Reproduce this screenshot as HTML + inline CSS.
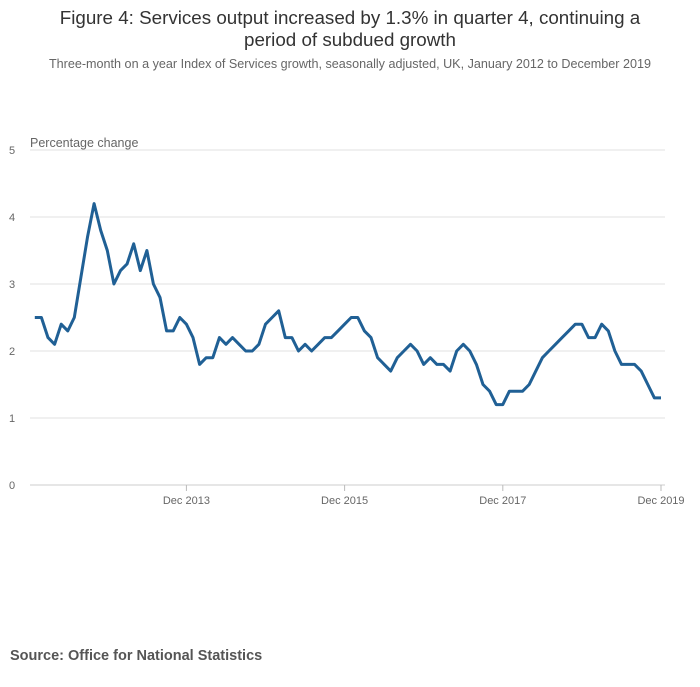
<!DOCTYPE html>
<html><head><meta charset="utf-8"><style>
body{margin:0;background:#fff;font-family:"Liberation Sans",sans-serif;}
svg text{font-family:"Liberation Sans",sans-serif;}
</style></head><body>
<svg width="700" height="682">
<text x="350" y="24" text-anchor="middle" font-size="18.8" fill="#333">Figure 4: Services output increased by 1.3% in quarter 4, continuing a</text>
<text x="350" y="46" text-anchor="middle" font-size="18.8" fill="#333">period of subdued growth</text>
<text x="350" y="68" text-anchor="middle" font-size="12.6" fill="#666">Three-month on a year Index of Services growth, seasonally adjusted, UK, January 2012 to December 2019</text>
<text x="30" y="147" font-size="12.5" fill="#666">Percentage change</text>
<g id="grid"></g><g id="xt"></g>
<path id="line" fill="none" stroke="#206095" stroke-width="3" stroke-linejoin="round"/>
<text x="10" y="660" font-size="14.5" font-weight="bold" fill="#555">Source: Office for National Statistics</text>
</svg>
<script>
const yTicks=[0,1,2,3,4,5];
const xTickLabels=["Dec 2013","Dec 2015","Dec 2017","Dec 2019"];
const xTickIndex=[23,47,71,95];
const values=[2.5,2.5,2.2,2.1,2.4,2.3,2.5,3.1,3.7,4.2,3.8,3.5,
3.0,3.2,3.3,3.6,3.2,3.5,3.0,2.8,2.3,2.3,2.5,2.4,
2.2,1.8,1.9,1.9,2.2,2.1,2.2,2.1,2.0,2.0,2.1,2.4,
2.5,2.6,2.2,2.2,2.0,2.1,2.0,2.1,2.2,2.2,2.3,2.4,
2.5,2.5,2.3,2.2,1.9,1.8,1.7,1.9,2.0,2.1,2.0,1.8,
1.9,1.8,1.8,1.7,2.0,2.1,2.0,1.8,1.5,1.4,1.2,1.2,
1.4,1.4,1.4,1.5,1.7,1.9,2.0,2.1,2.2,2.3,2.4,2.4,
2.2,2.2,2.4,2.3,2.0,1.8,1.8,1.8,1.7,1.5,1.3,1.3];
const NS="http://www.w3.org/2000/svg";
const x=i=>34.8+i*(661-34.8)/95;
const y=v=>485-v*67;
const grid=document.getElementById('grid');
yTicks.forEach(t=>{
 const l=document.createElementNS(NS,'line');
 l.setAttribute('x1',30);l.setAttribute('x2',665);l.setAttribute('y1',y(t));l.setAttribute('y2',y(t));
 l.setAttribute('stroke',t===0?'#ccc':'#e2e2e2');
 
 
 grid.appendChild(l);
 const tx=document.createElementNS(NS,'text');
 tx.setAttribute('x',12);tx.setAttribute('y',y(t)+4);tx.setAttribute('font-size','11');tx.setAttribute('fill','#666');tx.setAttribute('text-anchor','middle');
 tx.textContent=t;
 
 
 grid.appendChild(tx);
});
const xt=document.getElementById('xt');
xTickLabels.forEach((lab,k)=>{
 const px=x(xTickIndex[k]);
 const l=document.createElementNS(NS,'line');
 l.setAttribute('x1',px);l.setAttribute('x2',px);l.setAttribute('y1',485);l.setAttribute('y2',491);l.setAttribute('stroke','#bbb');
 
 
 xt.appendChild(l);
 const tx=document.createElementNS(NS,'text');
 tx.setAttribute('x',px);tx.setAttribute('y',504);tx.setAttribute('font-size','11');tx.setAttribute('fill','#666');tx.setAttribute('text-anchor','middle');
 tx.textContent=lab;
 
 
 xt.appendChild(tx);
});
document.getElementById('line').setAttribute('d',values.map((v,i)=>(i?'L':'M')+x(i).toFixed(1)+','+y(v).toFixed(1)).join(''));
</script>
</body></html>
